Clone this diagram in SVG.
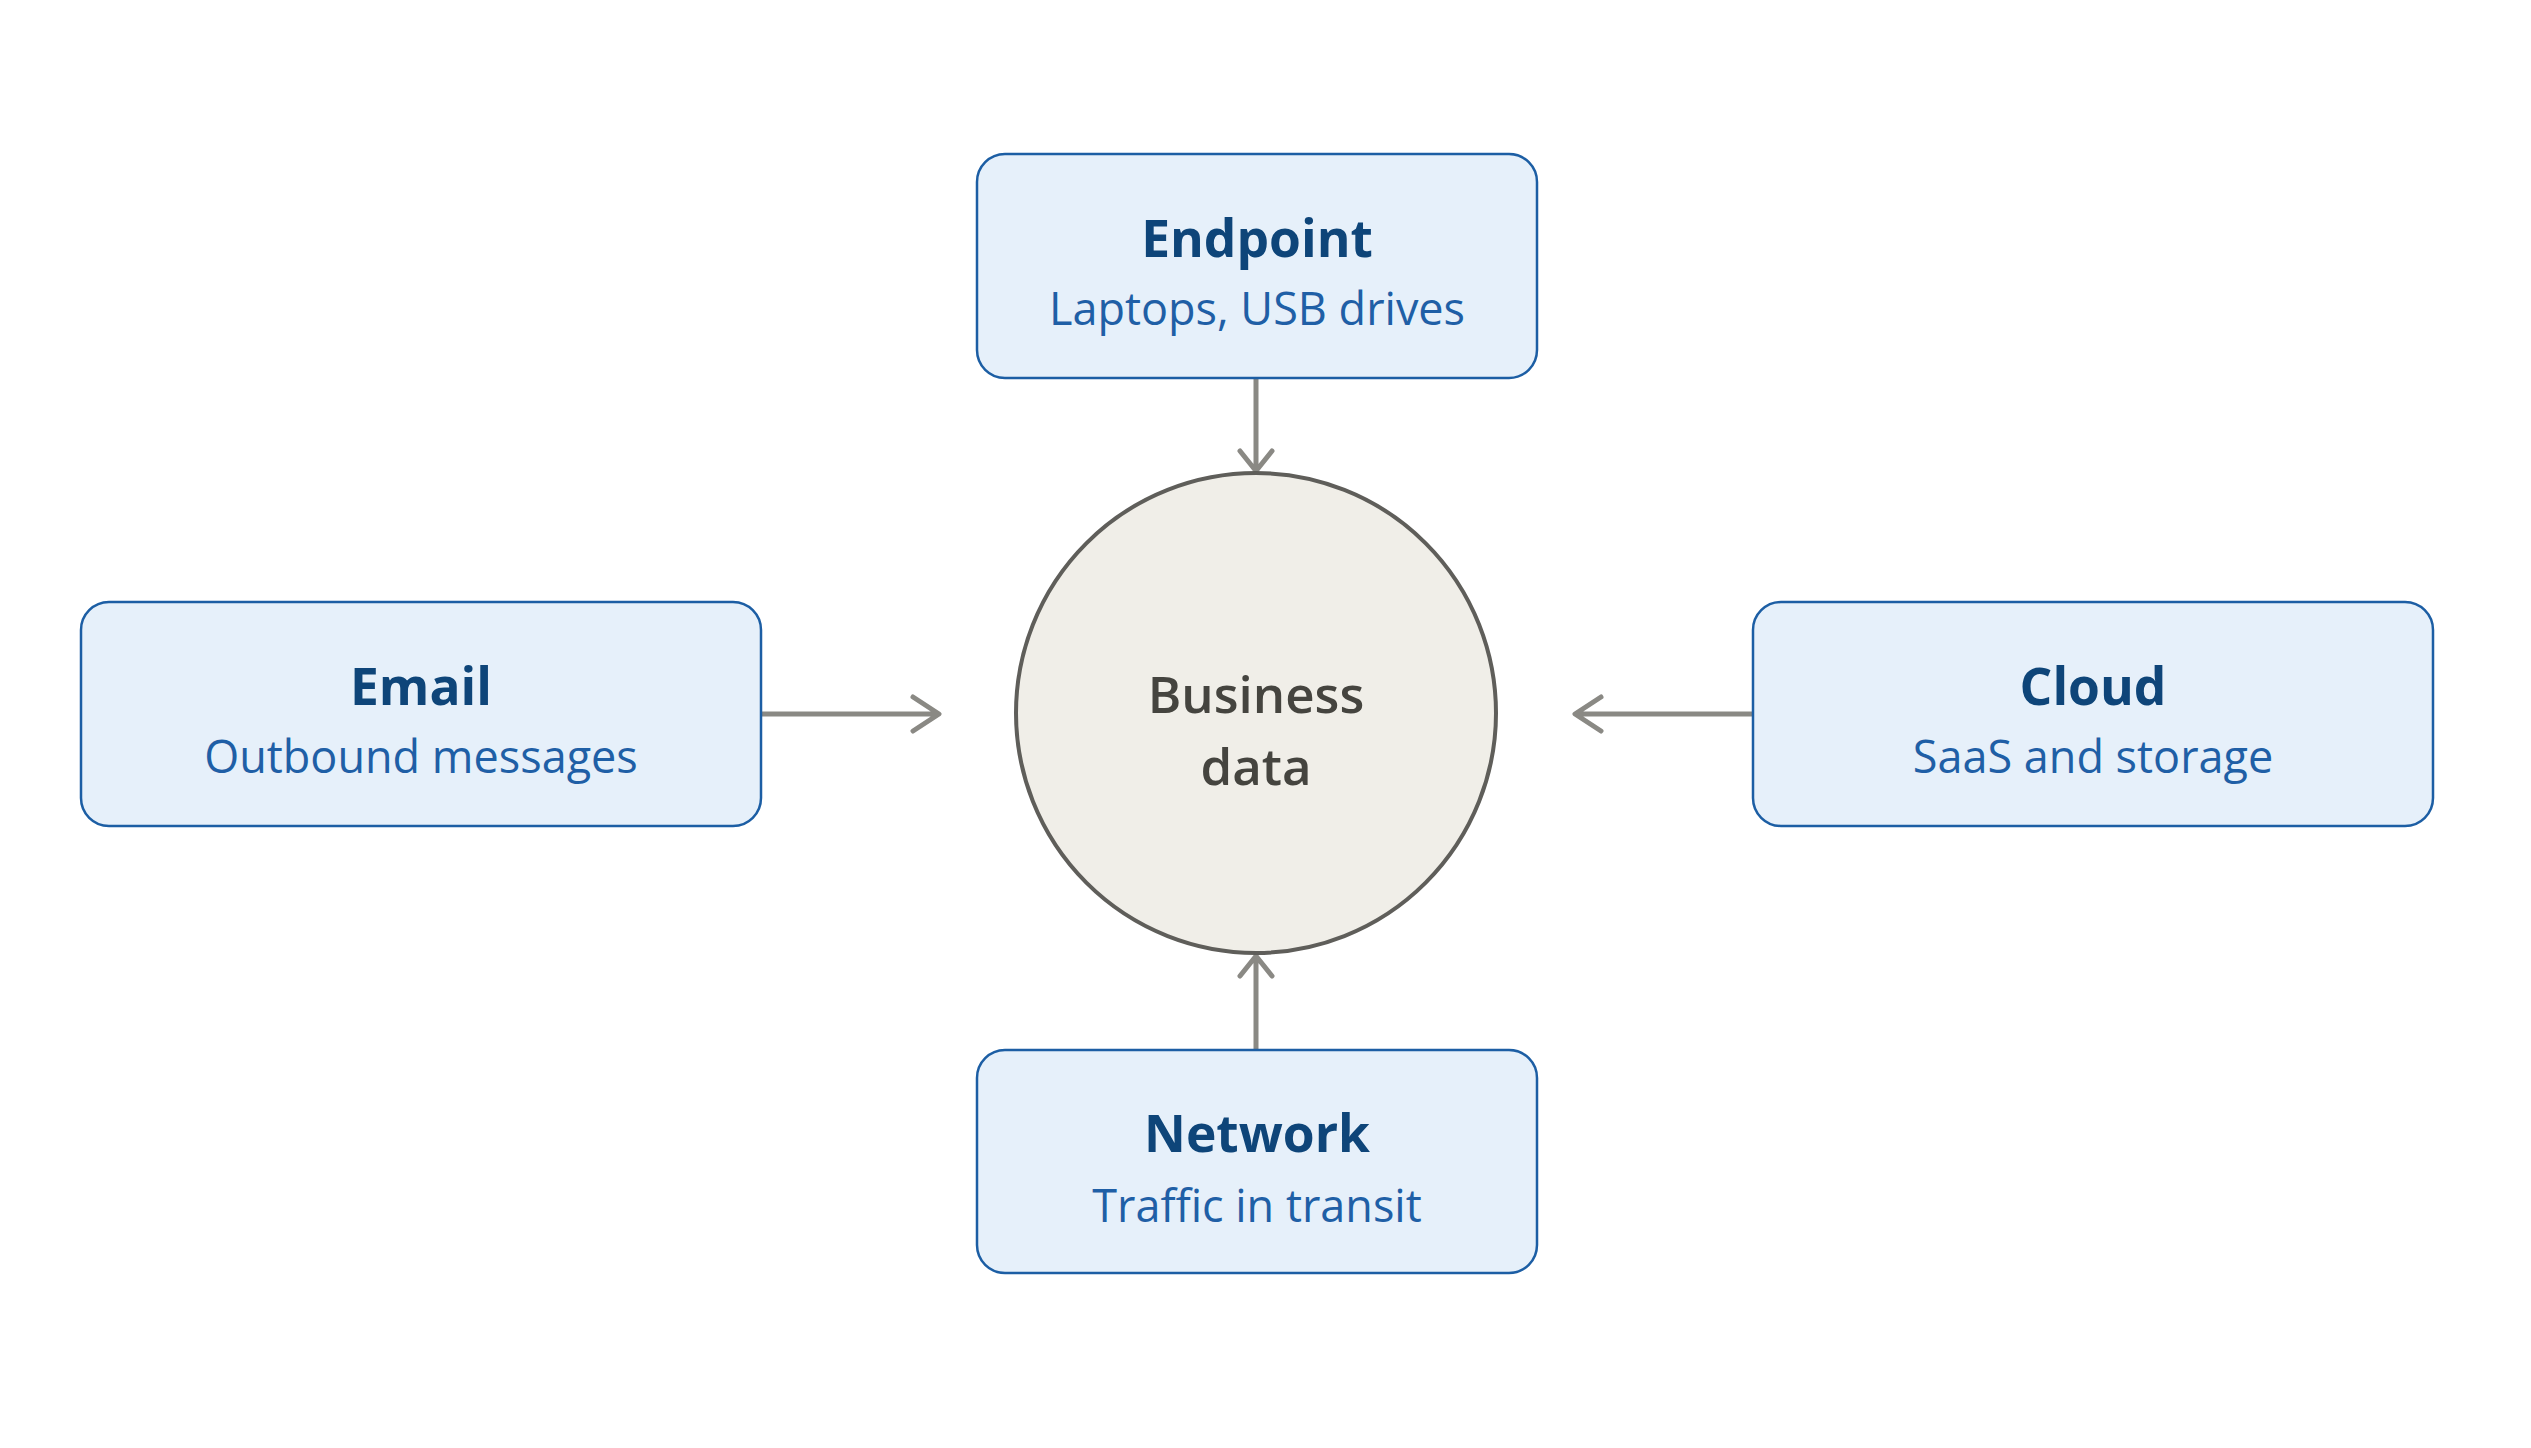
<svg xmlns="http://www.w3.org/2000/svg" width="2531" height="1448" viewBox="0 0 2531 1448">
<defs>
<style>
.box{fill:#e6f0fa;stroke:#1c5ea4;stroke-width:2.5}
.title{font-family:"Open Sans","Noto Sans",sans-serif;font-weight:700;font-size:51.5px;fill:#0e4579;text-anchor:middle}
.sub{font-family:"Open Sans","Noto Sans",sans-serif;font-size:45px;fill:#1f5fa6;text-anchor:middle}
.hub{fill:#f0eee8;stroke:#5f5e5a;stroke-width:4}
.hubt{font-family:"Open Sans","Noto Sans",sans-serif;font-weight:600;font-size:51px;fill:#45443f;text-anchor:middle}
.edge{stroke:#8a8984;stroke-width:5;fill:none;stroke-linecap:round;stroke-linejoin:round}
</style>
</defs>
<rect width="2531" height="1448" fill="#ffffff"/>
<g id="connectors">
<path class="edge" d="M1256 378 V471 M1240 451 L1256 471 L1272 451"/>
<path class="edge" d="M761 714 H938 M913 697 L939 714 L913 731"/>
<path class="edge" d="M1753 714 H1576 M1601 697 L1575 714 L1601 731"/>
<path class="edge" d="M1256 1050 V956 M1240 976 L1256 956 L1272 976"/>
</g>
<g id="node-center">
<circle class="hub" cx="1256" cy="713" r="240"/>
<text class="hubt" x="1256" y="713">Business</text>
<text class="hubt" x="1256" y="785">data</text>
</g>
<g id="node-endpoint">
<rect class="box" x="977" y="154" width="560" height="224" rx="28"/>
<text class="title" x="1257" y="257">Endpoint</text>
<text class="sub" x="1257" y="325">Laptops, USB drives</text>
</g>
<g id="node-email">
<rect class="box" x="81" y="602" width="680" height="224" rx="28"/>
<text class="title" x="421" y="705">Email</text>
<text class="sub" x="421" y="773">Outbound messages</text>
</g>
<g id="node-cloud">
<rect class="box" x="1753" y="602" width="680" height="224" rx="28"/>
<text class="title" x="2093" y="705">Cloud</text>
<text class="sub" x="2093" y="773">SaaS and storage</text>
</g>
<g id="node-network">
<rect class="box" x="977" y="1050" width="560" height="223" rx="28"/>
<text class="title" x="1257" y="1152">Network</text>
<text class="sub" x="1257" y="1222">Traffic in transit</text>
</g>
</svg>
